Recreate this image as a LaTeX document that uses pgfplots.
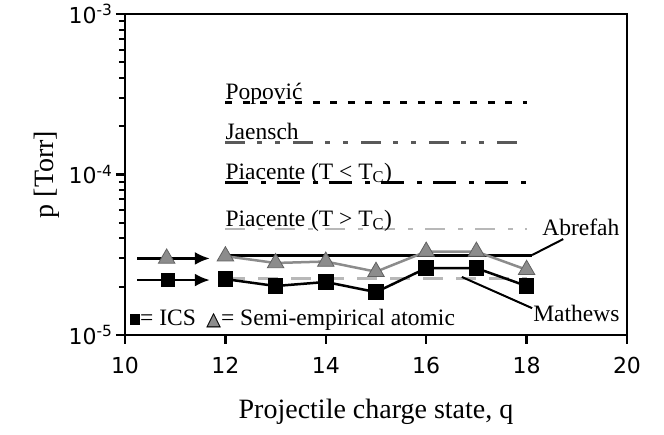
\documentclass[border=0pt]{standalone}
\usepackage{fontspec}
\setmainfont{Liberation Serif}
\setsansfont{DejaVu Sans}
\newfontfamily\symfont{DejaVu Sans}
\usepackage{pgfplots}
\pgfplotsset{compat=1.18}
\usetikzlibrary{arrows.meta}

\definecolor{semi}{gray}{0.55}
\definecolor{semiedge}{gray}{0.38}
\definecolor{darkg}{gray}{0.35}
\definecolor{lightg}{gray}{0.72}

\begin{document}
\begin{tikzpicture}
\begin{axis}[name=ax, scale only axis, width=502pt, height=321pt,
  xmin=10, xmax=20, ymode=log, ymin=1e-5, ymax=1e-3,
  xtick={10,12,...,20}, xticklabels={10,12,14,16,18,20},
  ytick={1e-5,1e-4,1e-3},
  yticklabels={10\textsuperscript{-5},10\textsuperscript{-4},10\textsuperscript{-3}},
  minor ytick={2e-5,3e-5,4e-5,5e-5,6e-5,7e-5,8e-5,9e-5,2e-4,3e-4,4e-4,5e-4,6e-4,7e-4,8e-4,9e-4},
  xtick pos=bottom, ytick pos=left, tick align=outside,
  major tick length=9pt, minor tick length=6pt,
  axis line style={line width=2.5pt},
  every major tick/.style={black, line width=2.5pt},
  every minor tick/.style={black, line width=2pt},
  ticklabel style={font=\sffamily\fontsize{22}{22}\selectfont},
  xticklabel style={yshift=-10pt},
  xlabel={Projectile charge state, q},
  ylabel={p [Torr]},
  every axis x label/.style={at={(axis description cs:0.5,0)}, yshift=-83pt, anchor=base},
  every axis y label/.style={at={(axis description cs:0,0.5)}, xshift=-78pt, rotate=90, anchor=center},
  label style={font=\fontsize{28}{28}\selectfont},
  clip=false]

% reference values
\addplot[black, line width=3pt, dash pattern=on 7pt off 10.5pt] coordinates {(12,2.79e-4)(18,2.79e-4)};
\addplot[darkg, line width=3pt, dash pattern=on 20pt off 12pt on 5pt off 13pt on 5pt off 13pt] coordinates {(12,1.59e-4)(18,1.59e-4)};
\addplot[black, line width=3pt, dash pattern=on 23pt off 13pt on 5pt off 11pt] coordinates {(12,8.98e-5)(18,8.98e-5)};
\addplot[lightg, line width=2.5pt, dash pattern=on 20pt off 13pt on 5pt off 12pt] coordinates {(12,4.57e-5)(18,4.57e-5)};
\addplot[black, line width=3pt] coordinates {(12,3.13e-5)(18.1,3.13e-5)};
\addplot[lightg, line width=3pt, dash pattern=on 20pt off 13pt] coordinates {(12,2.25e-5)(18,2.25e-5)};

% arrows
\addplot[black, line width=2.5pt, -{Latex[length=15pt,width=13pt]}] coordinates {(10.24,3.0e-5)(11.69,3.0e-5)};
\addplot[black, line width=2.5pt, -{Latex[length=15pt,width=13pt]}] coordinates {(10.24,2.2e-5)(11.69,2.2e-5)};
\addplot[only marks, mark=triangle*, mark size=9.5pt, mark options={fill=semi, draw=semiedge, line width=0.8pt}] coordinates {(10.83,3.0e-5)};
\addplot[only marks, mark=square*, mark size=6.5pt, black] coordinates {(10.85,2.2e-5)};

% semi-empirical atomic
\addplot[semi, line width=2.5pt, mark=triangle*, mark size=9.5pt, mark options={fill=semi, draw=semiedge, line width=0.8pt}]
  coordinates {(12,3.1e-5)(13,2.81e-5)(14,2.87e-5)(15,2.48e-5)(16,3.31e-5)(17,3.31e-5)(18,2.55e-5)};
% ICS
\addplot[black, line width=2.5pt, mark=square*, mark size=6.5pt]
  coordinates {(12,2.23e-5)(13,2.02e-5)(14,2.14e-5)(15,1.85e-5)(16,2.61e-5)(17,2.61e-5)(18,2.02e-5)};

\begin{scope}[every node/.style={font=\fontsize{23.5}{23.5}\selectfont, inner sep=0pt}]
\node[anchor=base west, yshift=3pt] at (axis cs:12,2.79e-4) {Popović};
\node[anchor=base west, yshift=3pt] at (axis cs:12,1.59e-4) {Jaensch};
\node[anchor=base west, yshift=3pt] at (axis cs:12,8.98e-5) {Piacente (T < T\textsubscript{C})};
\node[anchor=base west, yshift=3pt] at (axis cs:12,4.57e-5) {Piacente (T > T\textsubscript{C})};
\node[anchor=base west] at (axis cs:18.31,4.17e-5) {Abrefah};
\node[anchor=base west] at (axis cs:18.13,1.22e-5) {Mathews};
\node[anchor=base west] at (axis cs:10.1,1.15e-5) {\rule{10pt}{11pt}= ICS\hspace{0.45em}{\symfont\fontsize{19}{19}\selectfont\rlap{\color{semi}▲}△}= Semi-empirical atomic};
\end{scope}
\draw[black, line width=2pt] (axis cs:18.11,3.15e-5) -- (axis cs:18.73,3.96e-5);
\draw[black, line width=2pt] (axis cs:16.71,2.30e-5) -- (axis cs:18.11,1.47e-5);
\end{axis}
\pgfresetboundingbox
\path[use as bounding box] ([xshift=-125pt,yshift=-99pt]ax.south west) rectangle ([xshift=37pt,yshift=14pt]ax.north east);
\end{tikzpicture}
\end{document}
